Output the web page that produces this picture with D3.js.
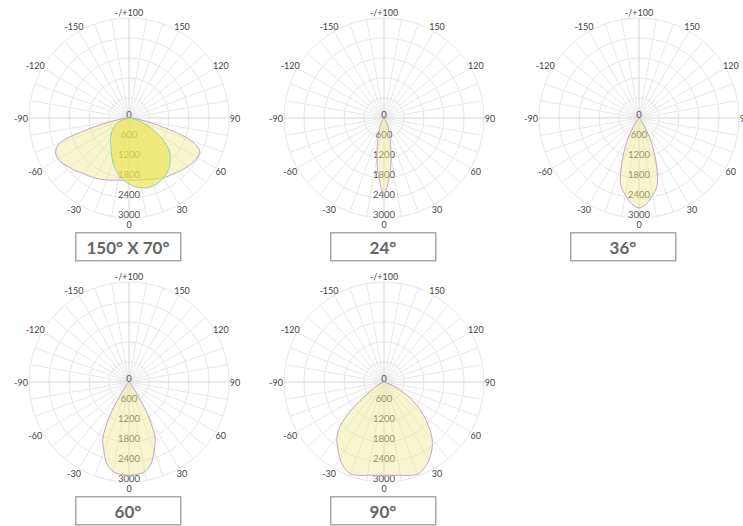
<!DOCTYPE html>
<html>
<head>
<meta charset="utf-8">
<script src="https://cdn.jsdelivr.net/npm/d3@7"></script>
<style>
  html, body { margin: 0; padding: 0; background: #fff; }
  svg { display: block; }
</style>
</head>
<body>
<svg id="chart" width="743" height="526"></svg>
<script>
// ---------- DATA ----------
const angles = [-90,-85,-80,-75,-70,-65,-60,-55,-50,-45,-40,-35,-30,-25,-20,-15,-10,-5,0,
                5,10,15,20,25,30,35,40,45,50,55,60,65,70,75,80,85,90];

// 150° x 70° : wide plane and narrow plane (cd)
const wide150 = [0,150,420,1200,2220,2430,2460,2400,2310,2250,2160,2115,2070,2025,1980,1935,1890,1875,1860,
                 1875,1890,1920,1950,2010,2070,2115,2160,2220,2280,2340,2370,2340,1980,1080,420,150,0];
const narrow70 = [0,30,90,180,300,405,510,600,690,780,870,960,1080,1230,1410,1575,1740,1875,1980,
                  2070,2130,2160,2160,2130,2070,1995,1890,1755,1590,1350,1050,750,480,270,120,30,0];
const beam24 = [0,0,0,0,0,0,0,5,15,25,45,80,150,260,420,740,1230,1800,2270,
                1800,1230,740,420,260,150,80,45,25,15,5,0,0,0,0,0,0,0];
const beam36 = [0,0,0,0,0,0,0,5,15,35,90,230,520,1000,1550,2100,2350,2580,2700,
                2580,2350,2100,1550,1000,520,230,90,35,15,5,0,0,0,0,0,0,0];
const beam60 = [0,0,0,0,0,0,0,0,10,35,95,300,1100,1850,2200,2550,2730,2780,2800,
                2780,2730,2550,2200,1850,1100,300,95,35,10,0,0,0,0,0,0,0,0];
const beam90 = [0,0,0,20,60,140,300,620,1215,1850,2200,2420,2650,2830,2930,2900,2840,2810,2800,
                2810,2840,2900,2940,2860,2700,2500,2250,1900,1550,1190,800,450,180,60,15,0,0];

const titles = ["150° X 70°", "24°", "36°", "60°", "90°"];
const angleTicks = [0, 30, 60, 90, 120, 150, 180, -150, -120, -90, -60, -30];
const angleTickLabels = ["0", "30", "60", "90", "120", "150", "-/+100", "-150", "-120", "-90", "-60", "-30"];
const radialTicks = [0, 600, 1200, 1800, 2400, 3000];
const radialMax = 3000;

// ---------- LAYOUT ----------
const panels = [
  { cx: 129, cy: 118, boxX: 75,  boxY: 232, series: [{ v: wide150, kind: "a" }, { v: narrow70, kind: "b" }] },
  { cx: 384, cy: 118, boxX: 330, boxY: 232, series: [{ v: beam24, kind: "a" }] },
  { cx: 639, cy: 118, boxX: 570, boxY: 232, series: [{ v: beam36, kind: "a" }] },
  { cx: 129, cy: 382, boxX: 75,  boxY: 496, series: [{ v: beam60, kind: "a" }] },
  { cx: 384, cy: 382, boxX: 330, boxY: 496, series: [{ v: beam90, kind: "a" }] }
];
const R = 100;
const styles = {
  a: { fill: "rgba(238,234,140,0.42)", stroke: "#c9a3cc" },
  b: { fill: "rgba(236,226,72,0.62)", stroke: "#8fd6b4" }
};
const FONT = "Lato, 'Open Sans', sans-serif";

const svg = d3.select("#chart");
const r = d3.scaleLinear().domain([0, radialMax]).range([0, R]);
const toRad = d => (180 - d) * Math.PI / 180; // 0 at bottom, positive to the right

const shape = d3.lineRadial()
  .angle(d => toRad(d[0]))
  .radius(d => r(d[1]))
  .curve(d3.curveCatmullRom.alpha(0.5));

panels.forEach((p, i) => {
  const g = svg.append("g").attr("transform", `translate(${p.cx},${p.cy})`);

  // rings
  g.selectAll("circle.ring").data(radialTicks.slice(1)).join("circle")
    .attr("r", d => r(d)).attr("fill", "none")
    .attr("stroke", "#e6e6e6").attr("stroke-width", 1);

  // spokes every 10°
  g.selectAll("line.spoke").data(d3.range(0, 360, 10)).join("line")
    .attr("x1", 0).attr("y1", 0)
    .attr("x2", d => R * Math.sin(d * Math.PI / 180))
    .attr("y2", d => R * Math.cos(d * Math.PI / 180))
    .attr("stroke", d => d % 90 === 0 ? "#d6d6d6" : "#e8e8e8")
    .attr("stroke-width", 1);

  // angle labels
  g.selectAll("text.ang").data(angleTicks).join("text")
    .attr("x", d => 106 * Math.sin(d * Math.PI / 180) + (d < 0 ? -2 : 0))
    .attr("y", d => 106 * Math.cos(d * Math.PI / 180))
    .attr("text-anchor", "middle").attr("dominant-baseline", "central")
    .attr("font-family", FONT).attr("font-size", 9)
    .attr("fill", "#444")
    .text((d, k) => angleTickLabels[k]);

  // radial labels
  g.selectAll("text.rad").data(radialTicks).join("text")
    .attr("x", 0).attr("y", d => r(d) - 0.5)
    .attr("text-anchor", "middle")
    .attr("font-family", FONT).attr("font-size", 9.5)
    .attr("fill", "#555")
    .text(d => d);

  // series (drawn over labels, semi-transparent)
  p.series.forEach(s => {
    const pts = angles.map((a, k) => [a, s.v[k]])
      .filter(d => d[1] > 0 || Math.abs(d[0]) === 90);
    g.append("path")
      .attr("d", shape(pts) + "Z")
      .attr("fill", styles[s.kind].fill)
      .attr("stroke", styles[s.kind].stroke)
      .attr("stroke-width", 1);
  });

  // title box
  svg.append("rect")
    .attr("x", p.boxX + 0.75).attr("y", p.boxY + 0.75)
    .attr("width", 105).attr("height", 28)
    .attr("fill", "#fff").attr("stroke", "#a8a8a8").attr("stroke-width", 1.5);
  svg.append("text")
    .attr("x", p.boxX + 53).attr("y", p.boxY + 15)
    .attr("text-anchor", "middle").attr("dominant-baseline", "central")
    .attr("font-family", FONT).attr("font-weight", 700)
    .attr("font-size", 17).attr("fill", "#666")
    .text(titles[i]);
});
</script>
</body>
</html>
